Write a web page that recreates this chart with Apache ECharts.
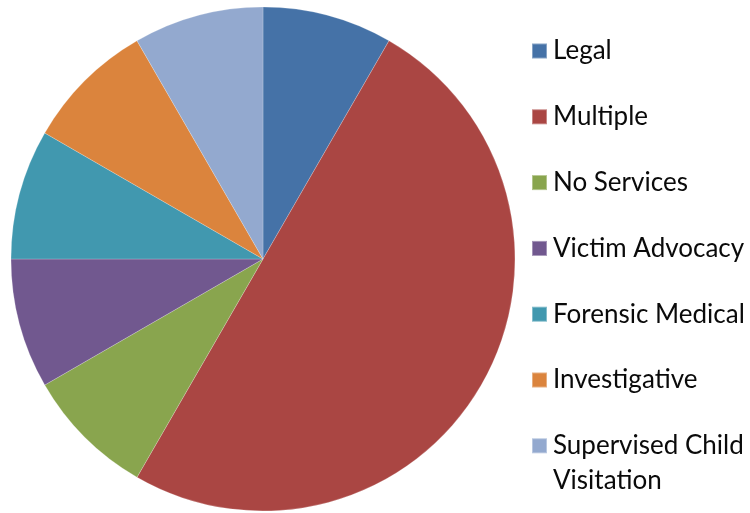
<!DOCTYPE html>
<html>
<head>
<meta charset="utf-8">
<script src="https://cdn.jsdelivr.net/npm/echarts@6/dist/echarts.min.js"></script>
<style>html,body{margin:0;padding:0;background:#fff}#c{width:750px;height:513px}</style>
</head>
<body>
<div id="c"></div>
<script>
const categories = ["Legal", "Multiple", "No Services", "Victim Advocacy", "Forensic Medical", "Investigative", "Supervised Child Visitation"];
const values = [1, 6, 1, 1, 1, 1, 1];
const colors = ["#4572A7", "#AA4643", "#89A54E", "#71588F", "#4198AF", "#DB843D", "#93A9CF"];

const chart = echarts.init(document.getElementById('c'), null, {renderer: 'canvas'});
chart.setOption({
  backgroundColor: '#ffffff',
  animation: false,
  color: colors,
  legend: {
    orient: 'vertical',
    left: 526,
    top: 31,
    itemWidth: 15,
    itemHeight: 15,
    itemGap: 35.8,
    icon: 'rect',
    selectedMode: false,
    textStyle: {fontFamily: 'Lato', fontSize: 26, color: '#0a0a0a', lineHeight: 30, padding: [0,0,0,1]},
    formatter: function (n) { return n === "Supervised Child Visitation" ? "Supervised Child" : n; },
    data: categories
  },
  graphic: [{
    type: 'text', left: 553, top: 468,
    style: {text: 'Visitation', fontFamily: 'Lato', fontSize: 26, fill: '#0a0a0a'}
  }],
  series: [{
    type: 'pie',
    center: [263, 259],
    radius: 252,
    startAngle: 90,
    clockwise: true,
    label: {show: false},
    labelLine: {show: false},
    itemStyle: {borderColor: 'rgba(255,255,255,0.35)', borderWidth: 0.6},
    emphasis: {disabled: true},
    data: categories.map((c, i) => ({name: c, value: values[i]}))
  }]
});
</script>
</body>
</html>
